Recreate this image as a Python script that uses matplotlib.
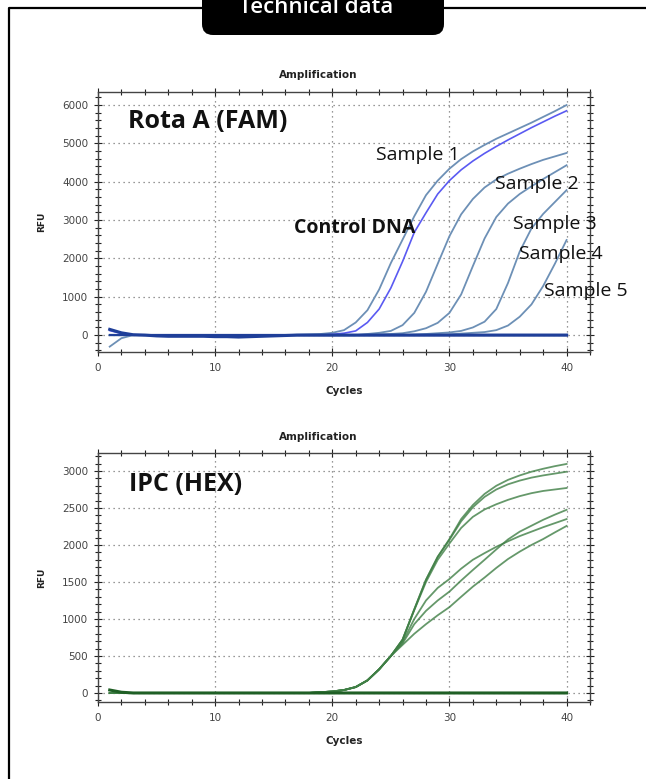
import matplotlib.pyplot as plt
import numpy as np
from matplotlib.patches import FancyBboxPatch
from matplotlib.ticker import MultipleLocator

# cycles 1..40
cycles = np.arange(1, 41)

# Rota A (FAM) curves, RFU per cycle
fam_sample1 = [-300, -80, 0] + [0] * 13 + [10, 20, 30, 60, 130, 330, 650, 1190, 1880, 2490, 3100, 3650,
                                           4030, 4340, 4590, 4790, 4960, 5120, 5260, 5400, 5540, 5690, 5840, 6000]
fam_control = [120, 40] + [0] * 17 + [20, 50, 110, 330, 680, 1230, 1920, 2680, 3190, 3680, 4030, 4310,
                                      4540, 4740, 4920, 5090, 5250, 5410, 5560, 5710, 5850]
fam_sample2 = [0] * 22 + [30, 60, 110, 260, 580, 1130, 1860, 2580, 3150, 3550, 3850, 4060, 4210,
                          4340, 4460, 4570, 4660, 4750]
fam_sample3 = [0] * 22 + [10, 20, 30, 50, 100, 180, 320, 580, 1060, 1800, 2520, 3080, 3430,
                          3680, 3880, 4070, 4250, 4430]
fam_sample4 = [0] * 26 + [15, 30, 50, 70, 110, 200, 350, 680, 1360, 2180, 2780, 3160, 3470, 3780]
fam_sample5 = [0] * 29 + [20, 40, 60, 80, 130, 250, 480, 800, 1280, 1860, 2480]
fam_negative = [150, 60, 10, 0, -20, -30, -30, -30, -30, -40, -40, -50, -40, -30, -20, -10] + [0] * 24
fam_negative2 = [0] * 40

# IPC (HEX) curves
hex_base = [0] * 18 + [10, 20, 40, 80, 170, 320, 500]
hex_a = hex_base + [720, 1130, 1530, 1840, 2080, 2350, 2540, 2690, 2800, 2880, 2940, 2990, 3030, 3065, 3095]
hex_b = hex_base + [720, 1130, 1530, 1840, 2070, 2320, 2510, 2650, 2750, 2820, 2870, 2910, 2940, 2965, 2990]
hex_c = hex_base + [720, 1120, 1500, 1800, 2020, 2230, 2380, 2480, 2550, 2610, 2660, 2700, 2730, 2750, 2770]
hex_d = hex_base + [690, 1000, 1250, 1420, 1540, 1680, 1800, 1890, 1975, 2050, 2120, 2180, 2240, 2295, 2350]
hex_e = hex_base + [670, 930, 1110, 1250, 1370, 1520, 1662, 1800, 1940, 2075, 2180, 2260, 2340, 2410, 2475]
hex_f = hex_base + [650, 800, 930, 1050, 1160, 1300, 1437, 1560, 1690, 1810, 1910, 2000, 2080, 2170, 2257]
hex_negative = [40, 10] + [0] * 38

# labels on the top chart: text, x (cycle), y (RFU)
fam_labels = ['Sample 1', 'Sample 2', 'Sample 3', 'Sample 4', 'Sample 5']
fam_label_x = [23.7, 33.9, 35.4, 35.9, 38.1]
fam_label_y = [4700, 3940, 2900, 2110, 1150]

label_font = 'Open Sans'

fig = plt.figure(figsize=(6.46, 7.79), dpi=100)

# overlay in pixel units for the frame and header
ov = fig.add_axes([0, 0, 1, 1])
ov.set_xlim(0, 646)
ov.set_ylim(779, 0)
ov.axis('off')
ov.plot([9, 9, 646], [779, 8, 8], color='black', lw=1.6, solid_capstyle='butt')
ov.add_patch(FancyBboxPatch((202, -30), 242, 65, boxstyle='round,pad=0,rounding_size=11',
                            fc='black', ec='none', zorder=3))
ov.text(316, 13, 'Technical data', color='white', fontsize=16, fontweight='semibold',
        family=label_font, ha='center', va='baseline', zorder=4)
ov.text(318, 75, 'Amplification', fontsize=7.5, fontweight='bold', color='#222', ha='center', va='center')
ov.text(318, 437, 'Amplification', fontsize=7.5, fontweight='bold', color='#222', ha='center', va='center')
ov.text(344, 391, 'Cycles', fontsize=7.5, fontweight='bold', color='#222', ha='center', va='center')
ov.text(344, 741, 'Cycles', fontsize=7.5, fontweight='bold', color='#222', ha='center', va='center')
ov.text(42, 222, 'RFU', fontsize=6.5, fontweight='bold', color='#222', ha='center', va='center', rotation=90)
ov.text(42, 578, 'RFU', fontsize=6.5, fontweight='bold', color='#222', ha='center', va='center', rotation=90)

ax1 = fig.add_axes([98 / 646, 1 - 352 / 779, 492 / 646, 260 / 779])
ax2 = fig.add_axes([98 / 646, 1 - 702 / 779, 492 / 646, 249 / 779])


def style(ax, ymin, ymax, ymajor, yminor):
    ax.set_xlim(0, 42)
    ax.set_ylim(ymin, ymax)
    ax.xaxis.set_major_locator(MultipleLocator(10))
    ax.xaxis.set_minor_locator(MultipleLocator(2))
    ax.yaxis.set_major_locator(MultipleLocator(ymajor))
    ax.yaxis.set_minor_locator(MultipleLocator(yminor))
    ax.tick_params(which='both', direction='inout', top=True, right=True, width=0.8,
                   color='#222', labelsize=7.5, labelcolor='#444')
    ax.tick_params(which='major', length=6)
    ax.tick_params(which='minor', length=4)
    ax.tick_params(axis='x', pad=5)
    ax.tick_params(axis='y', pad=4)
    ax.grid(True, which='major', linestyle=(0, (1, 3)), color='#777', lw=0.9)
    for s in ax.spines.values():
        s.set_color('#444')
        s.set_linewidth(1.0)


style(ax1, -440, 6340, 1000, 200)
style(ax2, -122, 3243, 500, 100)

# top chart
steel = '#6d90b6'
for ys in [fam_sample2, fam_sample3, fam_sample4, fam_sample5]:
    ax1.plot(cycles, ys, color=steel, lw=1.3)
ax1.plot(cycles, fam_sample1, color=steel, lw=1.3)
ax1.plot(cycles, fam_control, color='#5a5af2', lw=1.2)
ax1.plot(cycles, fam_negative, color='#1f3f99', lw=2.2)
ax1.plot(cycles, fam_negative2, color='#1f3f99', lw=1.6)

ax1.text(2.56, 5560, 'Rota A (FAM)', fontsize=18, fontweight='bold', family=label_font,
         color='#111', va='center')
ax1.text(16.7, 2790, 'Control DNA', fontsize=14, fontweight='bold', family=label_font,
         color='#111', va='center')
for t, x, y in zip(fam_labels, fam_label_x, fam_label_y):
    ax1.text(x, y, t, fontsize=14, family=label_font, color='#111', va='center')

# bottom chart
green = '#3f7f45'
for ys in [hex_a, hex_b, hex_c, hex_d, hex_e, hex_f]:
    ax2.plot(cycles, ys, color=green, lw=1.3, alpha=0.8)
ax2.plot(cycles, hex_negative, color='#1f5f25', lw=2.2)

ax2.text(2.64, 2824, 'IPC (HEX)', fontsize=18, fontweight='bold', family=label_font,
         color='#111', va='center')

fig.savefig('out.png', dpi=100)
